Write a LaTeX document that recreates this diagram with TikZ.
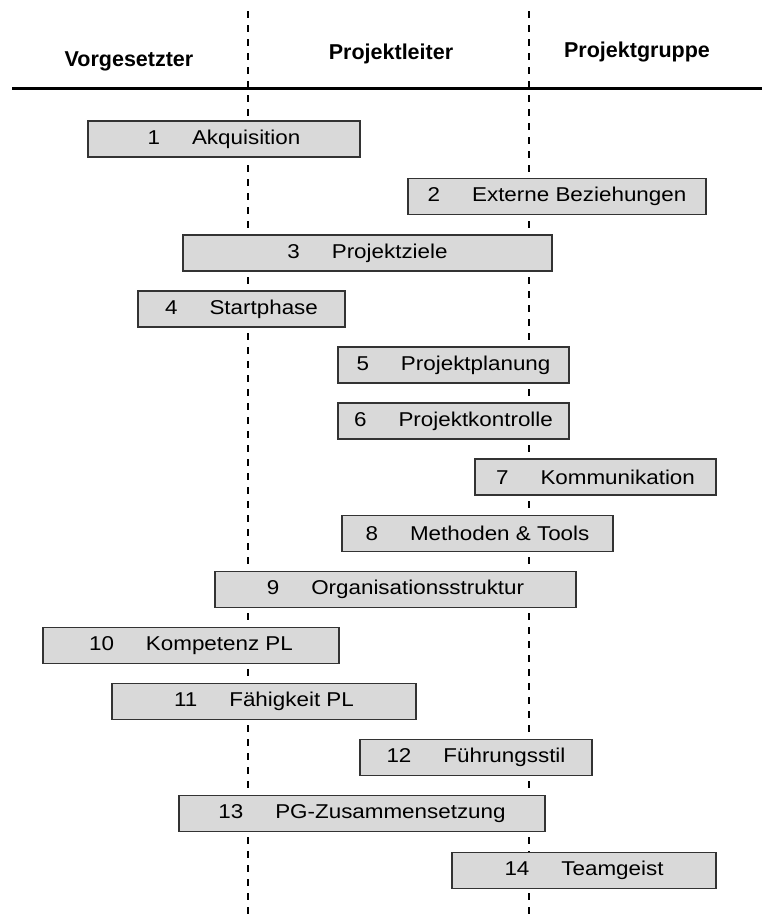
\documentclass[tikz,border=0pt]{standalone}
\usepackage{fontspec}
\setmainfont{Liberation Sans}
\newfontfamily\boxfont[FakeStretch=1.12]{Liberation Sans}
\begin{document}
\begin{tikzpicture}[x=1pt,y=-1pt,
  lane/.style={line width=2pt, dash pattern=on 7pt off 7pt},
  head/.style={font=\fontsize{21.5}{24}\selectfont\bfseries, anchor=base, inner sep=0},
  topic/.style={draw=black!80, line width=1.2pt, fill=black!15, minimum height=36pt,
     inner sep=0, font=\fontsize{20}{22}\boxfont}]
\useasboundingbox (0,0) rectangle (762,916);
% lanes
\coordinate (l1t) at (248,11); \coordinate (l1b) at (248,916);
\coordinate (l2t) at (529,11); \coordinate (l2b) at (529,916);
\draw[lane] (l1t) -- (l1b);
\draw[lane] (l2t) -- (l2b);
% header rule
\coordinate (rl) at (12,88); \coordinate (rr) at (762,88);
\draw[line width=3pt] (rl) -- (rr);
% headings
\node[head] (h1) at (129,66) {Vorgesetzter};
\node[head] (h2) at (391,59) {Projektleiter};
\node[head] (h3) at (637,57) {Projektgruppe};
% boxes
\newcommand{\topicbox}[6]{%
  \node[topic, minimum width={#3-#2}] (#1) at ({(#2+#3)/2},{(#4+#5)/2}) {#6};}
\topicbox{b1}{88}{360}{121}{157}{1\hspace{32pt}Akquisition}
\topicbox{b2}{408}{706}{178}{215}{2\hspace{32pt}Externe Beziehungen}
\topicbox{b3}{183}{552}{235}{271}{3\hspace{32pt}Projektziele}
\topicbox{b4}{138}{345}{291}{327}{4\hspace{32pt}Startphase}
\topicbox{b5}{338}{569}{347}{383}{5\hspace{32pt}Projektplanung}
\topicbox{b6}{338}{569}{403}{439}{6\hspace{32pt}Projektkontrolle}
\topicbox{b7}{475}{716}{459}{495}{7\hspace{32pt}Kommunikation}
\topicbox{b8}{342}{613}{515}{552}{8\hspace{32pt}Methoden \& Tools}
\topicbox{b9}{215}{576}{571}{608}{9\hspace{32pt}Organisationsstruktur}
\topicbox{b10}{43}{339}{627}{664}{10\hspace{32pt}Kompetenz PL}
\topicbox{b11}{112}{416}{683}{720}{11\hspace{32pt}Fähigkeit PL}
\topicbox{b12}{360}{592}{739}{776}{12\hspace{32pt}Führungsstil}
\topicbox{b13}{179}{545}{795}{832}{13\hspace{32pt}PG-Zusammensetzung}
\topicbox{b14}{452}{716}{852}{889}{14\hspace{32pt}Teamgeist}
\end{tikzpicture}
\end{document}
